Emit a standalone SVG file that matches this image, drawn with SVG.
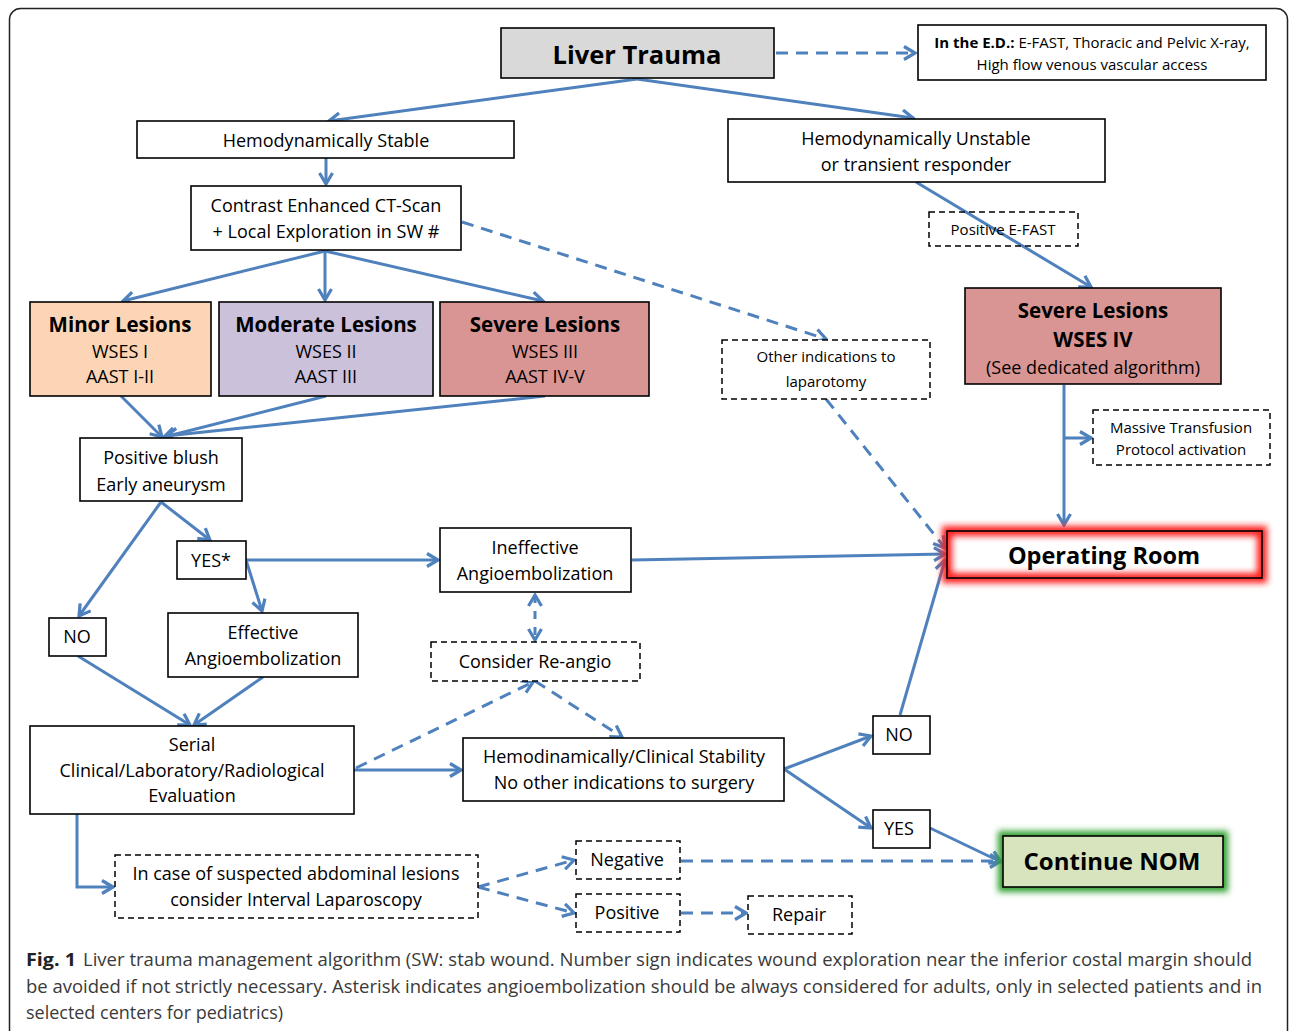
<svg xmlns="http://www.w3.org/2000/svg" width="1290" height="1031" viewBox="0 0 1290 1031">
<style>
.t{font-family:"Open Sans","Liberation Sans",sans-serif;font-size:18px;fill:#000;text-anchor:middle}
.s{font-size:15px}
.b{font-weight:bold}
.box{fill:#fff;stroke:#000;stroke-width:1.6}
.dbox{fill:#fff;stroke:#000;stroke-width:1.5;stroke-dasharray:6 4}
.c{fill:none;stroke:#4f81bd;stroke-width:3;marker-end:url(#ah)}
.d{stroke-dasharray:12 8}
.cap{font-family:"Open Sans","Liberation Sans",sans-serif;font-size:18px;fill:#3a3a3a}
</style>
<defs>
<marker id="ah" viewBox="0 0 16 16" refX="14" refY="8" markerWidth="16" markerHeight="16" markerUnits="userSpaceOnUse" orient="auto-start-reverse">
<path d="M3,1.5 L14,8 L3,14.5" fill="none" stroke="#4f81bd" stroke-width="3.2" stroke-linejoin="miter"/>
</marker>
<filter id="blur" x="-20%" y="-60%" width="140%" height="220%"><feGaussianBlur stdDeviation="3"/></filter>
</defs>
<rect width="1290" height="1031" fill="#fff"/>
<rect x="9.5" y="8.5" width="1278" height="1050" rx="11" fill="none" stroke="#222" stroke-width="1.5"/>

<g id="connectors">
<path class="c" d="M637,79 L329,121"/>
<path class="c" d="M637,79 L913,118"/>
<path class="c d" d="M776,53 L915,53"/>
<path class="c" d="M326,158 L326,184"/>
<path class="c" d="M325,251 L123,301"/>
<path class="c" d="M325,251 L325,300"/>
<path class="c" d="M325,251 L543,301"/>
<path class="c d" d="M462,222 L826,339"/>
<path class="c" d="M916,182 L1091,287"/>
<path class="c" d="M1064,385 L1064,525"/>
<path class="c" d="M1064,438 L1091,438"/>
<path class="c d" d="M826,399 L945,548"/>
<path class="c" d="M121,396 L162,437"/>
<path class="c" d="M326,396 L164,437"/>
<path class="c" d="M545,396 L166,436"/>
<path class="c" d="M161,502 L79,616"/>
<path class="c" d="M161,502 L210,540"/>
<path class="c" d="M246,560 L438,560"/>
<path class="c" d="M246,560 L262,611"/>
<path class="c" d="M632,560 L945,554"/>
<path class="c d" style="marker-start:url(#ah);stroke-dasharray:8 8" d="M535,595 L535,640"/>
<path class="c" d="M78,656 L190,725"/>
<path class="c" d="M263,677 L194,725"/>
<path class="c" d="M354,770 L461,770"/>
<path class="c d" d="M356,768 L533,682"/>
<path class="c d" d="M535,681 L622,737"/>
<path class="c" d="M784,769 L871,736"/>
<path class="c" d="M784,769 L871,828"/>
<path class="c" d="M900,715 L945,560"/>
<path class="c" d="M930,828 L1001,862"/>
<path class="c" d="M77,814 L77,887 L113,887"/>
<path class="c d" d="M478,887 L574,860"/>
<path class="c d" d="M478,887 L574,913"/>
<path class="c d" d="M681,861 L1001,861"/>
<path class="c d" d="M681,913 L746,913"/>
</g>

<g id="liver-trauma">
<rect x="501" y="28" width="273" height="50" fill="#d9d9d9" stroke="#000" stroke-width="1.6"/>
<text class="t b" x="637" y="64" style="font-size:25.5px">Liver Trauma</text>
</g>
<g id="ed">
<rect class="box" x="918" y="25" width="348" height="55"/>
<text class="t s" x="1092" y="48"><tspan class="b">In the E.D.:</tspan> E-FAST, Thoracic and Pelvic X-ray,</text>
<text class="t s" x="1092" y="70">High flow venous vascular access</text>
</g>
<g id="hemo-stable">
<rect class="box" x="137" y="121" width="377" height="37"/>
<text class="t" x="326" y="147">Hemodynamically Stable</text>
</g>
<g id="hemo-unstable">
<rect class="box" x="728" y="119" width="377" height="63"/>
<text class="t" x="916" y="145">Hemodynamically Unstable</text>
<text class="t" x="916" y="171">or transient responder</text>
</g>
<g id="ct">
<rect class="box" x="191" y="186" width="270" height="64"/>
<text class="t" x="326" y="212">Contrast Enhanced CT-Scan</text>
<text class="t" x="326" y="238">+ Local Exploration in SW #</text>
</g>
<g id="positive-efast">
<rect class="dbox" x="929" y="212" width="149" height="34" style="fill:none"/>
<text class="t s" x="1003" y="235">Positive E-FAST</text>
</g>
<g id="minor">
<rect x="30" y="302" width="181" height="94" fill="#fbd5b5" stroke="#000" stroke-width="1.6"/>
<text class="t b" x="120" y="332" style="font-size:20.5px">Minor Lesions</text>
<text class="t" x="120" y="358">WSES I</text>
<text class="t" x="120" y="383">AAST I-II</text>
</g>
<g id="moderate">
<rect x="219" y="302" width="214" height="94" fill="#ccc1da" stroke="#000" stroke-width="1.6"/>
<text class="t b" x="326" y="332" style="font-size:20.5px">Moderate Lesions</text>
<text class="t" x="326" y="358">WSES II</text>
<text class="t" x="326" y="383">AAST III</text>
</g>
<g id="severe">
<rect x="440" y="302" width="209" height="94" fill="#d99594" stroke="#000" stroke-width="1.6"/>
<text class="t b" x="545" y="332" style="font-size:20.5px">Severe Lesions</text>
<text class="t" x="545" y="358">WSES III</text>
<text class="t" x="545" y="383">AAST IV-V</text>
</g>
<g id="other-indications">
<rect class="dbox" x="722" y="340" width="208" height="59"/>
<text class="t s" x="826" y="362">Other indications to</text>
<text class="t s" x="826" y="387">laparotomy</text>
</g>
<g id="severe-iv">
<rect x="965" y="288" width="256" height="96" fill="#d99594" stroke="#000" stroke-width="1.6"/>
<text class="t b" x="1093" y="318" style="font-size:20.5px">Severe Lesions</text>
<text class="t b" x="1093" y="347" style="font-size:20.5px">WSES IV</text>
<text class="t" x="1093" y="374">(See dedicated algorithm)</text>
</g>
<g id="massive-transfusion">
<rect class="dbox" x="1093" y="410" width="177" height="55"/>
<text class="t s" x="1181" y="433">Massive Transfusion</text>
<text class="t s" x="1181" y="455">Protocol activation</text>
</g>
<g id="operating-room">
<rect x="947" y="531" width="315" height="47" fill="none" stroke="#ff1a1a" stroke-width="10" filter="url(#blur)"/>
<rect x="947" y="531" width="315" height="47" fill="none" stroke="#000" stroke-width="1.6"/>
<text class="t b" x="1104" y="564" style="font-size:23.5px">Operating Room</text>
</g>
<g id="positive-blush">
<rect class="box" x="80" y="438" width="162" height="63"/>
<text class="t" x="161" y="464">Positive blush</text>
<text class="t" x="161" y="491">Early aneurysm</text>
</g>
<g id="yes-star">
<rect class="box" x="177" y="541" width="69" height="38"/>
<text class="t" x="211" y="567">YES*</text>
</g>
<g id="no-left">
<rect class="box" x="49" y="618" width="57" height="38"/>
<text class="t" x="77" y="643">NO</text>
</g>
<g id="effective">
<rect class="box" x="168" y="613" width="190" height="64"/>
<text class="t" x="263" y="639">Effective</text>
<text class="t" x="263" y="665">Angioembolization</text>
</g>
<g id="ineffective">
<rect class="box" x="440" y="528" width="191" height="64"/>
<text class="t" x="535" y="554">Ineffective</text>
<text class="t" x="535" y="580">Angioembolization</text>
</g>
<g id="re-angio">
<rect class="dbox" x="431" y="642" width="209" height="39"/>
<text class="t" x="535" y="668">Consider Re-angio</text>
</g>
<g id="serial">
<rect class="box" x="30" y="726" width="324" height="88"/>
<text class="t" x="192" y="751">Serial</text>
<text class="t" x="192" y="777">Clinical/Laboratory/Radiological</text>
<text class="t" x="192" y="802">Evaluation</text>
</g>
<g id="stability">
<rect class="box" x="463" y="738" width="321" height="63"/>
<text class="t" x="624" y="763">Hemodinamically/Clinical Stability</text>
<text class="t" x="624" y="789">No other indications to surgery</text>
</g>
<g id="no-right">
<rect class="box" x="873" y="716" width="57" height="38"/>
<text class="t" x="899" y="741">NO</text>
</g>
<g id="yes-right">
<rect class="box" x="873" y="810" width="57" height="38"/>
<text class="t" x="899" y="835">YES</text>
</g>
<g id="continue-nom">
<rect x="1003" y="836" width="220" height="51" fill="none" stroke="#2e9e2e" stroke-width="10" filter="url(#blur)"/>
<rect x="1003" y="836" width="220" height="51" fill="#d7e4bd" stroke="#000" stroke-width="1.6"/>
<text class="t b" x="1112" y="870" style="font-size:24px">Continue NOM</text>
</g>
<g id="interval-laparoscopy">
<rect class="dbox" x="115" y="855" width="363" height="63"/>
<text class="t" x="296" y="880">In case of suspected abdominal lesions</text>
<text class="t" x="296" y="906">consider Interval Laparoscopy</text>
</g>
<g id="negative">
<rect class="dbox" x="576" y="841" width="104" height="38"/>
<text class="t" x="627" y="866">Negative</text>
</g>
<g id="positive">
<rect class="dbox" x="576" y="894" width="104" height="38"/>
<text class="t" x="627" y="919">Positive</text>
</g>
<g id="repair">
<rect class="dbox" x="748" y="896" width="104" height="38"/>
<text class="t" x="799" y="921">Repair</text>
</g>

<g id="caption">
<text class="cap" x="26" y="966" style="font-weight:bold;fill:#222" textLength="50" lengthAdjust="spacingAndGlyphs">Fig. 1</text>
<text class="cap" x="83" y="966" textLength="1169" lengthAdjust="spacingAndGlyphs">Liver trauma management algorithm (SW: stab wound. Number sign indicates wound exploration near the inferior costal margin should</text>
<text class="cap" x="26" y="993" textLength="1236" lengthAdjust="spacingAndGlyphs">be avoided if not strictly necessary. Asterisk indicates angioembolization should be always considered for adults, only in selected patients and in</text>
<text class="cap" x="26" y="1019" textLength="257" lengthAdjust="spacingAndGlyphs">selected centers for pediatrics)</text>
</g>
</svg>
